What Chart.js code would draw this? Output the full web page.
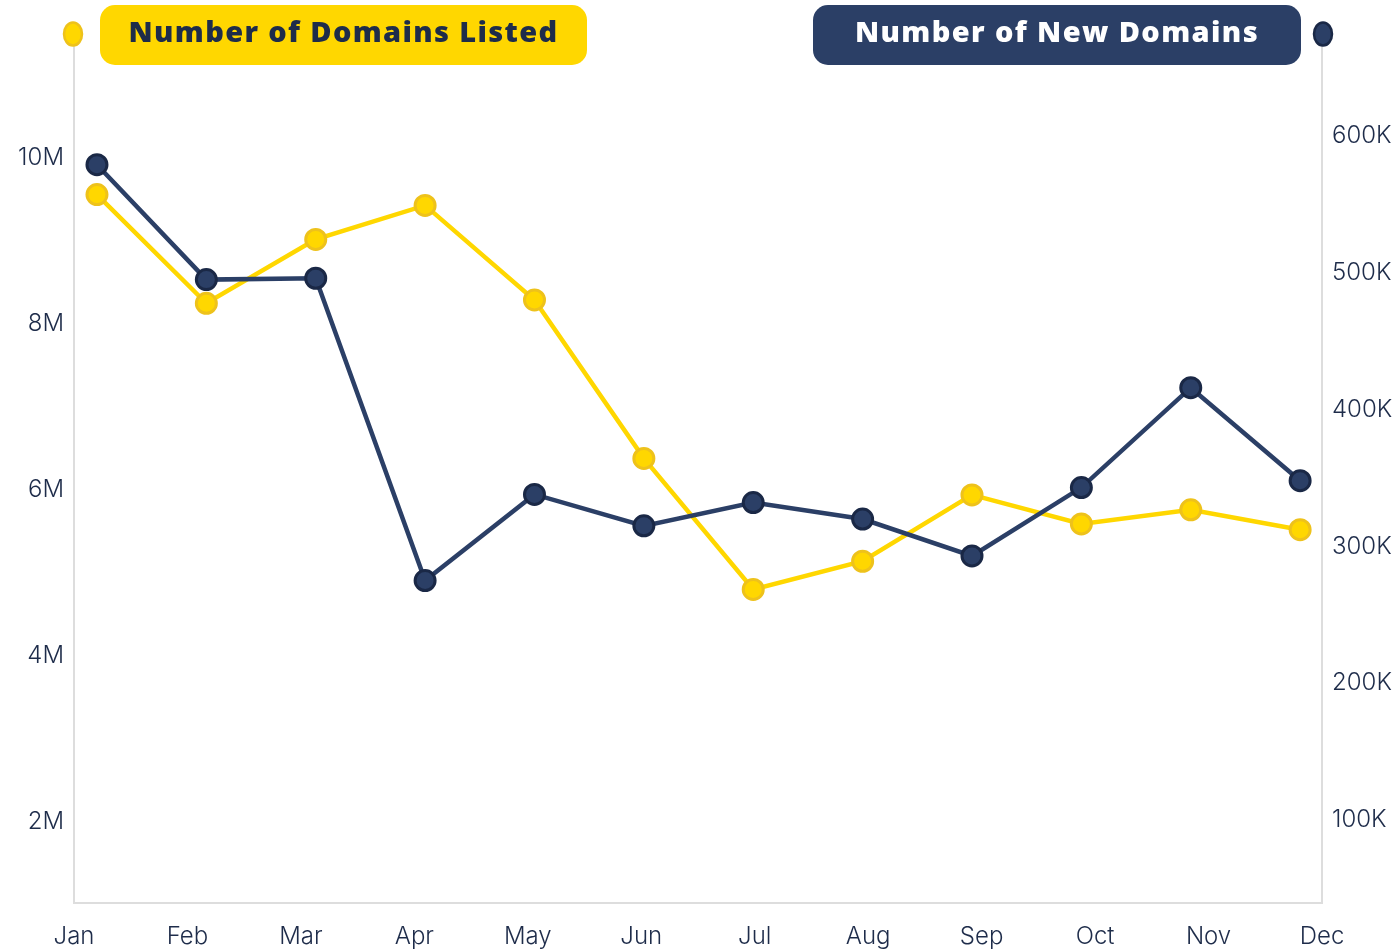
<!DOCTYPE html>
<html>
<head>
<meta charset="utf-8">
<script src="https://cdn.jsdelivr.net/npm/chart.js@4/dist/chart.umd.min.js"></script>
<style>
  html, body { margin: 0; padding: 0; background: #fff; }
  #wrap { width: 1398px; height: 949px; position: relative; }
</style>
</head>
<body>
<div id="wrap"><canvas id="grafico"></canvas></div>
<script>
const meses = ["Jan", "Feb", "Mar", "Apr", "May", "Jun", "Jul", "Aug", "Sep", "Oct", "Nov", "Dec"];
const dominiosListados = [9560000, 8250000, 9020000, 9430000, 8290000, 6380000, 4800000, 5140000, 5940000, 5590000, 5760000, 5520000];
const dominiosNuevos = [579000, 495000, 496000, 275000, 338000, 315000, 332000, 320000, 293000, 343000, 416000, 348000];
const ticksIzq = [2000000, 4000000, 6000000, 8000000, 10000000];
const ticksDer = [100000, 200000, 300000, 400000, 500000, 600000];
const etiquetaListados = "Number of Domains Listed";
const etiquetaNuevos = "Number of New Domains";

const amarillo = "#FFD700";
const amarilloBorde = "#EEC21B";
const azul = "#2B3F66";
const azulBorde = "#1A2846";
const textoColor = "#1E2C4A";
const gris = "#DDDDDD";
const fuente = "Inter, 'Open Sans', sans-serif";
const fuenteLeyenda = "'Open Sans', Inter, sans-serif";

const aPuntos = (valores) => valores.map((v, i) => ({ x: i, y: v }));

const formatoM = (v) => (v / 1000000) + "M";
const formatoK = (v) => (v / 1000) + "K";

// leyenda tipo "pastilla" arriba del grafico
const leyendaPastillas = {
  id: "leyendaPastillas",
  afterDraw(chart) {
    const ctx = chart.ctx;
    const dibujarMarcador = (x, y, relleno, borde) => {
      ctx.save();
      ctx.beginPath();
      ctx.ellipse(x, y, 9, 11.5, 0, 0, Math.PI * 2);
      ctx.fillStyle = relleno;
      ctx.fill();
      ctx.lineWidth = 2.5;
      ctx.strokeStyle = borde;
      ctx.stroke();
      ctx.restore();
    };
    const pastilla = (x1, x2, fondo, colorTexto, texto, anchoTexto) => {
      ctx.save();
      ctx.beginPath();
      ctx.roundRect(x1, 5, x2 - x1, 60, 15);
      ctx.fillStyle = fondo;
      ctx.fill();
      ctx.font = "800 29px " + fuenteLeyenda;
      // un poco de espaciado para llegar al ancho del original
      const sobra = anchoTexto - ctx.measureText(texto).width;
      ctx.letterSpacing = Math.min(2, Math.max(0, sobra / texto.length)) + "px";
      ctx.fillStyle = colorTexto;
      ctx.textAlign = "center";
      ctx.textBaseline = "middle";
      ctx.fillText(texto, (x1 + x2) / 2, 34);
      ctx.restore();
    };
    pastilla(100, 587, amarillo, textoColor, etiquetaListados, 430);
    pastilla(813, 1301, azul, "#FFFFFF", etiquetaNuevos, 404);
    dibujarMarcador(73, 34, amarillo, amarilloBorde);
    dibujarMarcador(1323, 34, azul, azulBorde);
  }
};

const fuenteTicks = { family: fuente, size: 24, weight: 300 };

const config = {
  type: "line",
  data: {
    labels: meses,
    datasets: [
      {
        label: etiquetaNuevos,
        data: aPuntos(dominiosNuevos),
        xAxisID: "xd",
        yAxisID: "yDer",
        borderColor: azul,
        backgroundColor: azul,
        pointBackgroundColor: azul,
        pointBorderColor: azulBorde,
        borderWidth: 4.5,
        pointRadius: 10,
        pointBorderWidth: 3,
        tension: 0,
        order: 0
      },
      {
        label: etiquetaListados,
        data: aPuntos(dominiosListados),
        xAxisID: "xd",
        yAxisID: "yIzq",
        borderColor: amarillo,
        backgroundColor: amarillo,
        pointBackgroundColor: amarillo,
        pointBorderColor: amarilloBorde,
        borderWidth: 4.5,
        pointRadius: 10,
        pointBorderWidth: 3,
        tension: 0,
        order: 1
      }
    ]
  },
  options: {
    responsive: false,
    animation: false,
    layout: { padding: { top: 42, left: 0, right: 0, bottom: 0 } },
    plugins: {
      legend: { display: false },
      tooltip: { enabled: false }
    },
    scales: {
      x: {
        type: "category",
        offset: false,
        grid: { display: false, drawTicks: false },
        border: { color: gris, width: 2 },
        ticks: { color: textoColor, font: fuenteTicks, padding: 19, maxRotation: 0, autoSkip: false },
        afterFit(s) { s.height = 46; }
      },
      xd: {
        type: "linear",
        display: false,
        min: -0.21,
        max: 11.2
      },
      yIzq: {
        type: "linear",
        position: "left",
        min: 1020000,
        max: 11400000,
        grid: { display: false, drawTicks: false },
        border: { color: gris, width: 2 },
        afterBuildTicks(s) { s.ticks = ticksIzq.map(v => ({ value: v })); },
        ticks: { color: textoColor, font: fuenteTicks, padding: 10, callback: formatoM },
        afterFit(s) { s.width = 74; }
      },
      yDer: {
        type: "linear",
        position: "right",
        min: 39300,
        max: 668700,
        grid: { display: false, drawTicks: false },
        border: { color: gris, width: 2 },
        afterBuildTicks(s) { s.ticks = ticksDer.map(v => ({ value: v })); },
        ticks: { color: textoColor, font: fuenteTicks, padding: 10, callback: formatoK },
        afterFit(s) { s.width = 76; }
      }
    }
  },
  plugins: [leyendaPastillas]
};

const lienzo = document.getElementById("grafico");
lienzo.width = 1398;
lienzo.height = 949;
const miGrafico = new Chart(lienzo, config);
</script>
</body>
</html>
